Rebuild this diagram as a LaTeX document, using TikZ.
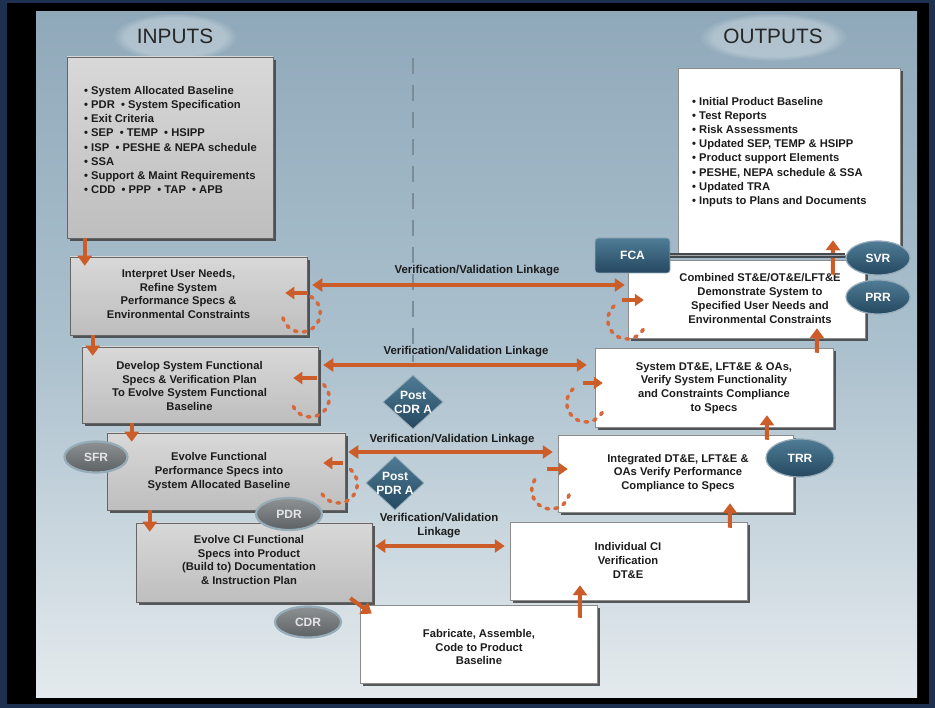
\documentclass[tikz,border=0pt]{standalone}
\usepackage{fontspec}
\setmainfont{Liberation Sans}
\usetikzlibrary{arrows.meta,shapes.geometric,shadows,fadings}
\definecolor{navyb}{RGB}{30,48,80}
\definecolor{orng}{RGB}{204,92,40}
\definecolor{dotc}{RGB}{214,104,60}
\definecolor{greytop}{RGB}{216,216,216}
\definecolor{greybot}{RGB}{190,190,190}
\definecolor{tealtop}{RGB}{80,124,150}
\definecolor{tealbot}{RGB}{36,72,96}
\definecolor{gellt}{RGB}{142,146,149}
\definecolor{gelbt}{RGB}{92,97,100}
\definecolor{halo}{RGB}{150,172,184}
\definecolor{bgtop}{RGB}{144,169,186}
\definecolor{bgmid}{RGB}{172,193,206}
\definecolor{bgbot}{RGB}{228,234,237}
\definecolor{txt}{RGB}{28,28,28}
\definecolor{dashc}{RGB}{122,140,152}
\definecolor{barc}{RGB}{66,74,80}
\begin{document}
\begin{tikzpicture}[x=1pt,y=-1pt,
  boxshadow/.style={drop shadow={shadow xshift=3pt,shadow yshift=-3pt,fill=black!75,opacity=0.85}},
  greybox/.style={draw=black!60,line width=0.5pt,top color=greytop,bottom color=greybot,boxshadow,inner sep=0pt},
  whitebox/.style={draw=black!45,line width=0.5pt,fill=white,boxshadow,inner sep=0pt},
  bt/.style={font=\bfseries\fontsize{11.2}{13.7}\selectfont,align=center,text=txt,inner sep=0pt},
  lt/.style={font=\bfseries\fontsize{11.2}{14.1}\selectfont,align=left,text=txt,anchor=west,inner sep=0pt},
  vl/.style={font=\bfseries\fontsize{11.4}{14}\selectfont,align=center,text=txt,inner sep=0pt},
  hd/.style={font=\fontsize{20.8}{24}\selectfont,text=black!85,inner sep=0pt},
  dnar/.style={orng,line width=4pt,-{Triangle[width=14pt,length=10pt]}},
  vv/.style={orng,line width=3.5pt,{Triangle[width=13pt,length=10pt]}-{Triangle[width=13pt,length=10pt]}},
  smar/.style={orng,line width=3.5pt,-{Triangle[width=12pt,length=9pt]}},
  dotarc/.style={dotc,line width=3.6pt,dash pattern=on 2.6pt off 6.4pt,line cap=round},
  tealell/.style={ellipse,top color=tealtop,bottom color=tealbot,draw=halo,line width=1.2pt,text=white,font=\bfseries\fontsize{12}{14}\selectfont,inner sep=0pt},
  greyell/.style={ellipse,top color=gellt,bottom color=gelbt,draw=halo,line width=2.2pt,text=white!90!black,font=\bfseries\fontsize{12}{14}\selectfont,inner sep=0pt},
  dia/.style={diamond,top color=tealtop,bottom color=tealbot,draw=halo,line width=0.8pt,text=white,font=\bfseries\fontsize{12}{14}\selectfont,align=center,inner sep=-7pt},
  tealbox/.style={rectangle,rounded corners=3pt,top color=tealtop,bottom color=tealbot,draw=halo,line width=0.8pt,text=white,font=\bfseries\fontsize{12}{14}\selectfont,inner sep=0pt}
]
\useasboundingbox (0,0) rectangle (935,708);
% frame and panel
\fill[navyb] (0,0) rectangle (935,708);
\fill[black] (7,3) rectangle (929,704);
\fill[top color=bgtop,bottom color=bgbot,middle color=bgmid] (36,12) rectangle (917,697);
% header glows
\fill[white,opacity=.28,path fading=circle with fuzzy edge 20 percent] (175,37) ellipse [x radius=62, y radius=24];
\fill[white,opacity=.28,path fading=circle with fuzzy edge 20 percent] (773,37) ellipse [x radius=74, y radius=24];
\node[hd] (hin) at (175,36) {INPUTS};
\node[hd] (hout) at (773,36) {OUTPUTS};
% dashed divider
\draw[dashc,line width=2.6pt,dash pattern=on 16pt off 11pt] (413,58) -- (413,362);
% boxes
\node[whitebox,minimum width=222,minimum height=187] (outbox) at (789,161.5) {};
\node[whitebox,minimum width=237,minimum height=78] (b9) at (746.5,299) {};
\node[whitebox,minimum width=238,minimum height=79] (b8) at (714,387.5) {};
\node[whitebox,minimum width=235,minimum height=77] (b7) at (675.5,473.5) {};
\node[whitebox,minimum width=237,minimum height=78] (b6) at (628.5,561) {};
\node[whitebox,minimum width=237,minimum height=78] (b5) at (478.5,644) {};
\node[greybox,minimum width=206,minimum height=181] (inbox) at (170,147.5) {};
\node[greybox,minimum width=237,minimum height=78] (b1) at (188.5,296) {};
\node[greybox,minimum width=236,minimum height=76] (b2) at (200,385) {};
\node[greybox,minimum width=238,minimum height=77] (b3) at (226,471.5) {};
\node[greybox,minimum width=236,minimum height=79] (b4) at (254,562.5) {};
% texts
\node[lt] (inlist) at (84,140) {• System Allocated Baseline\\• PDR~ • System Specification\\• Exit Criteria\\• SEP~ • TEMP~ • HSIPP\\• ISP~ • PESHE \& NEPA schedule\\• SSA\\• Support \& Maint Requirements\\• CDD~ • PPP~ • TAP~ • APB};
\node[lt] (outlist) at (692,152) {• Initial Product Baseline\\• Test Reports\\• Risk Assessments\\• Updated SEP, TEMP \& HSIPP\\• Product support Elements\\• PESHE, NEPA schedule \& SSA\\• Updated TRA\\• Inputs to Plans and Documents};
\node[bt] (t1) at (178.5,294) {Interpret User Needs,\\Refine System\\Performance Specs \&\\Environmental Constraints};
\node[bt] (t2) at (189.5,386) {Develop System Functional\\Specs \& Verification Plan\\To Evolve System Functional\\Baseline};
\node[bt] (t3) at (219,471.5) {Evolve Functional\\Performance Specs into\\System Allocated Baseline};
\node[bt] (t4) at (249,560) {Evolve CI Functional\\Specs into Product\\(Build to) Documentation\\\& Instruction Plan};
\node[bt] (t5) at (479,647) {Fabricate, Assemble,\\Code to Product\\Baseline};
\node[bt] (t6) at (628,560.5) {Individual CI\\Verification\\DT\&E};
\node[bt] (t7) at (678,473) {Integrated DT\&E, LFT\&E \&\\OAs Verify Performance\\Compliance to Specs};
\node[bt] (t8) at (714,388) {System DT\&E, LFT\&E \& OAs,\\Verify System Functionality\\and Constraints Compliance\\to Specs};
\node[bt] (t9) at (760,298.5) {Combined ST\&E/OT\&E/LFT\&E\\Demonstrate System to\\Specified User Needs and\\Environmental Constraints};
% loop arcs
\coordinate (c1) at ([xshift=-6pt,yshift=-17pt]b1.east);
\coordinate (c2) at ([xshift=-8pt,yshift=-13pt]b2.east);
\coordinate (c3) at ([xshift=-7pt,yshift=-12.5pt]b3.east);
\coordinate (c9) at ([xshift=-1pt,yshift=-21pt]b9.west);
\coordinate (c8) at ([xshift=-9pt,yshift=-15.5pt]b8.west);
\coordinate (c7) at ([xshift=-7pt,yshift=-16.5pt]b7.west);
\draw[dotarc] ([shift={(-60:19)}]c1) arc[start angle=-60,end angle=165,radius=19];
\draw[dotarc] ([shift={(-45:19)}]c2) arc[start angle=-45,end angle=160,radius=19];
\draw[dotarc] ([shift={(-50:19)}]c3) arc[start angle=-50,end angle=165,radius=19];
\draw[dotarc] ([shift={(30:19)}]c9) arc[start angle=30,end angle=230,radius=19];
\draw[dotarc] ([shift={(30:19)}]c8) arc[start angle=30,end angle=228,radius=19];
\draw[dotarc] ([shift={(15:19)}]c7) arc[start angle=15,end angle=228,radius=19];
% small loop arrows
\draw[smar] ([xshift=1pt,yshift=3pt]b1.east) -- ([xshift=-22pt,yshift=3pt]b1.east);
\draw[smar] ([xshift=-1pt,yshift=7pt]b2.east) -- ([xshift=-25pt,yshift=7pt]b2.east);
\draw[smar] ([xshift=-2pt,yshift=8.5pt]b3.east) -- ([xshift=-22pt,yshift=8.5pt]b3.east);
\draw[smar] ([xshift=-6pt,yshift=-1pt]b9.west) -- ([xshift=16pt,yshift=-1pt]b9.west);
\draw[smar] ([xshift=-12pt,yshift=4.5pt]b8.west) -- ([xshift=8pt,yshift=4.5pt]b8.west);
\draw[smar] ([xshift=-11pt,yshift=4.5pt]b7.west) -- ([xshift=10pt,yshift=4.5pt]b7.west);
% flow arrows down the left side
\draw[dnar] ([xshift=18pt]inbox.south west) -- ([xshift=15pt,yshift=-9pt]b1.north west);
\draw[dnar] ([xshift=23pt]b1.south west) -- ([xshift=11pt,yshift=-9pt]b2.north west);
\draw[dnar] ([xshift=50pt]b2.south west) -- ([xshift=25pt,yshift=-9pt]b3.north west);
\draw[dnar] ([xshift=43pt]b3.south west) -- ([xshift=14pt,yshift=-9pt]b4.north west);
\draw[dnar] ([xshift=-22pt,yshift=4pt]b4.south east) -- ([xshift=12pt,yshift=-9pt]b5.north west);
% flow arrows up the right side
\draw[dnar] ([xshift=220pt,yshift=-13pt]b5.north west) -- ([xshift=-48.5pt,yshift=15pt]b6.south);
\draw[dnar] ([xshift=220pt,yshift=-6pt]b6.north west) -- ([xshift=54.5pt,yshift=9pt]b7.south);
\draw[dnar] ([xshift=209pt,yshift=-5pt]b7.north west) -- ([xshift=53pt,yshift=12pt]b8.south);
\draw[dnar] ([xshift=222pt,yshift=-5pt]b8.north west) -- ([xshift=70.5pt,yshift=10pt]b9.south);
\draw[dnar] ([xshift=205pt,yshift=-15pt]b9.north west) -- ([xshift=44pt,yshift=15pt]outbox.south);
% verification / validation linkages
\draw[vv] ([xshift=5pt,yshift=11pt]b1.east) -- ([xshift=-3pt,yshift=14pt]b9.west);
\draw[vv] ([xshift=5pt,yshift=20pt]b2.east) -- ([xshift=-8pt,yshift=22.5pt]b8.west);
\draw[vv] ([xshift=3pt,yshift=19.5pt]b3.east) -- ([xshift=-5pt,yshift=21.5pt]b7.west);
\draw[vv] ([xshift=3pt,yshift=16.5pt]b4.east) -- ([xshift=-5pt,yshift=15pt]b6.west);
\node[vl] (l1) at (477,271) {Verification/Validation Linkage};
\node[vl] (l2) at (466,352) {Verification/Validation Linkage};
\node[vl] (l3) at (452,440) {Verification/Validation Linkage};
\node[vl] (l4) at (439,526) {Verification/Validation\\Linkage};
% milestones
\node[tealbox,minimum width=75,minimum height=35] (fca) at (632.5,255.5) {FCA};
\node[tealell,minimum width=64,minimum height=34] (svr) at (878,258) {SVR};
\draw[barc,line width=4.5pt] (fca.east) -- (fca.east -| svr.west);
\draw[black!35,line width=1.2pt] (fca.east) -- (fca.east -| svr.west);
\node[tealell,minimum width=64,minimum height=34] (prr) at (878,297) {PRR};
\node[tealell,minimum width=68,minimum height=38] (trr) at (800,458) {TRR};
\node[greyell,minimum width=63,minimum height=31] (sfr) at (96,457) {SFR};
\node[greyell,minimum width=66,minimum height=32] (pdr) at (289,514) {PDR};
\node[greyell,minimum width=66,minimum height=31] (cdr) at (308,622) {CDR};
\node[dia,minimum width=60,minimum height=54] (pcdr) at (413,402) {Post\\CDR A};
\node[dia,minimum width=58,minimum height=54] (ppdr) at (395,483) {Post\\PDR A};
\end{tikzpicture}
\end{document}
